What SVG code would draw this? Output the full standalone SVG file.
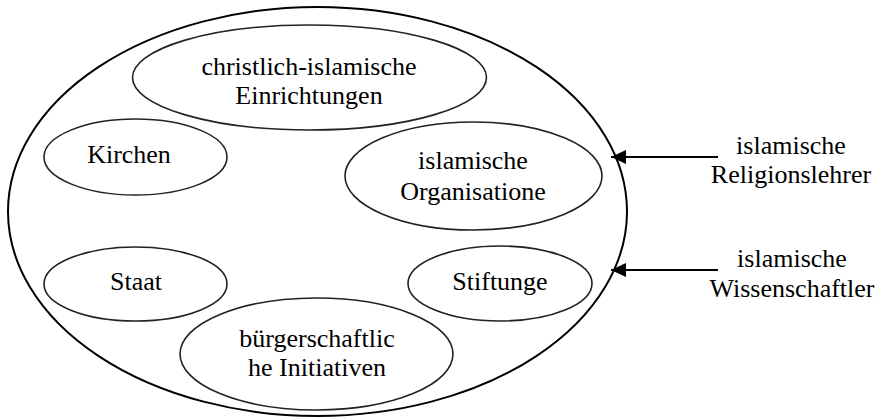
<svg xmlns="http://www.w3.org/2000/svg" width="883" height="420" viewBox="0 0 883 420">
<defs>
<style>
.outer{fill:none;stroke:#000;stroke-width:2}
.node ellipse{fill:none;stroke:#222;stroke-width:1.6}
.conn line{stroke:#000;stroke-width:2}
text{font-family:"Liberation Serif",Tinos,"Times New Roman",Times,serif;font-size:26px;fill:#000;text-anchor:middle}
</style>
<marker id="ah" markerWidth="16" markerHeight="14" refX="15" refY="7" orient="auto" markerUnits="userSpaceOnUse">
<path d="M0,0 L15,7 L0,14 Z" fill="#000"/>
</marker>
</defs>
<rect width="883" height="420" fill="#fff"/>
<g id="outer"><ellipse class="outer" cx="317.5" cy="211.5" rx="309.5" ry="204.5"/></g>
<g id="christlich" class="node"><ellipse cx="309.5" cy="77.5" rx="177" ry="52.5"/><text x="309" y="75">christlich-islamische</text><text x="309" y="104">Einrichtungen</text></g>
<g id="kirchen" class="node"><ellipse cx="135.5" cy="157" rx="91.5" ry="38"/><text x="129" y="163">Kirchen</text></g>
<g id="organisation" class="node"><ellipse cx="473.5" cy="176" rx="128.5" ry="54"/><text x="473" y="169">islamische</text><text x="473" y="200">Organisatione</text></g>
<g id="staat" class="node"><ellipse cx="135.5" cy="284" rx="91.5" ry="37"/><text x="136" y="290">Staat</text></g>
<g id="stiftunge" class="node"><ellipse cx="500" cy="283.5" rx="92" ry="37.5"/><text x="500" y="290">Stiftunge</text></g>
<g id="buerger" class="node"><ellipse cx="316.5" cy="354" rx="136.5" ry="56"/><text x="317" y="347">bürgerschaftlic</text><text x="317" y="376">he Initiativen</text></g>
<g id="religionslehrer" class="node"><text x="791" y="154">islamische</text><text x="791" y="183">Religionslehrer</text></g>
<g id="wissenschaftler" class="node"><text x="792" y="267">islamische</text><text x="792" y="297">Wissenschaftler</text></g>
<g id="connectors" class="conn">
<line x1="718" y1="157" x2="611" y2="157" marker-end="url(#ah)"/>
<line x1="718" y1="270" x2="611" y2="270" marker-end="url(#ah)"/>
</g>
</svg>
